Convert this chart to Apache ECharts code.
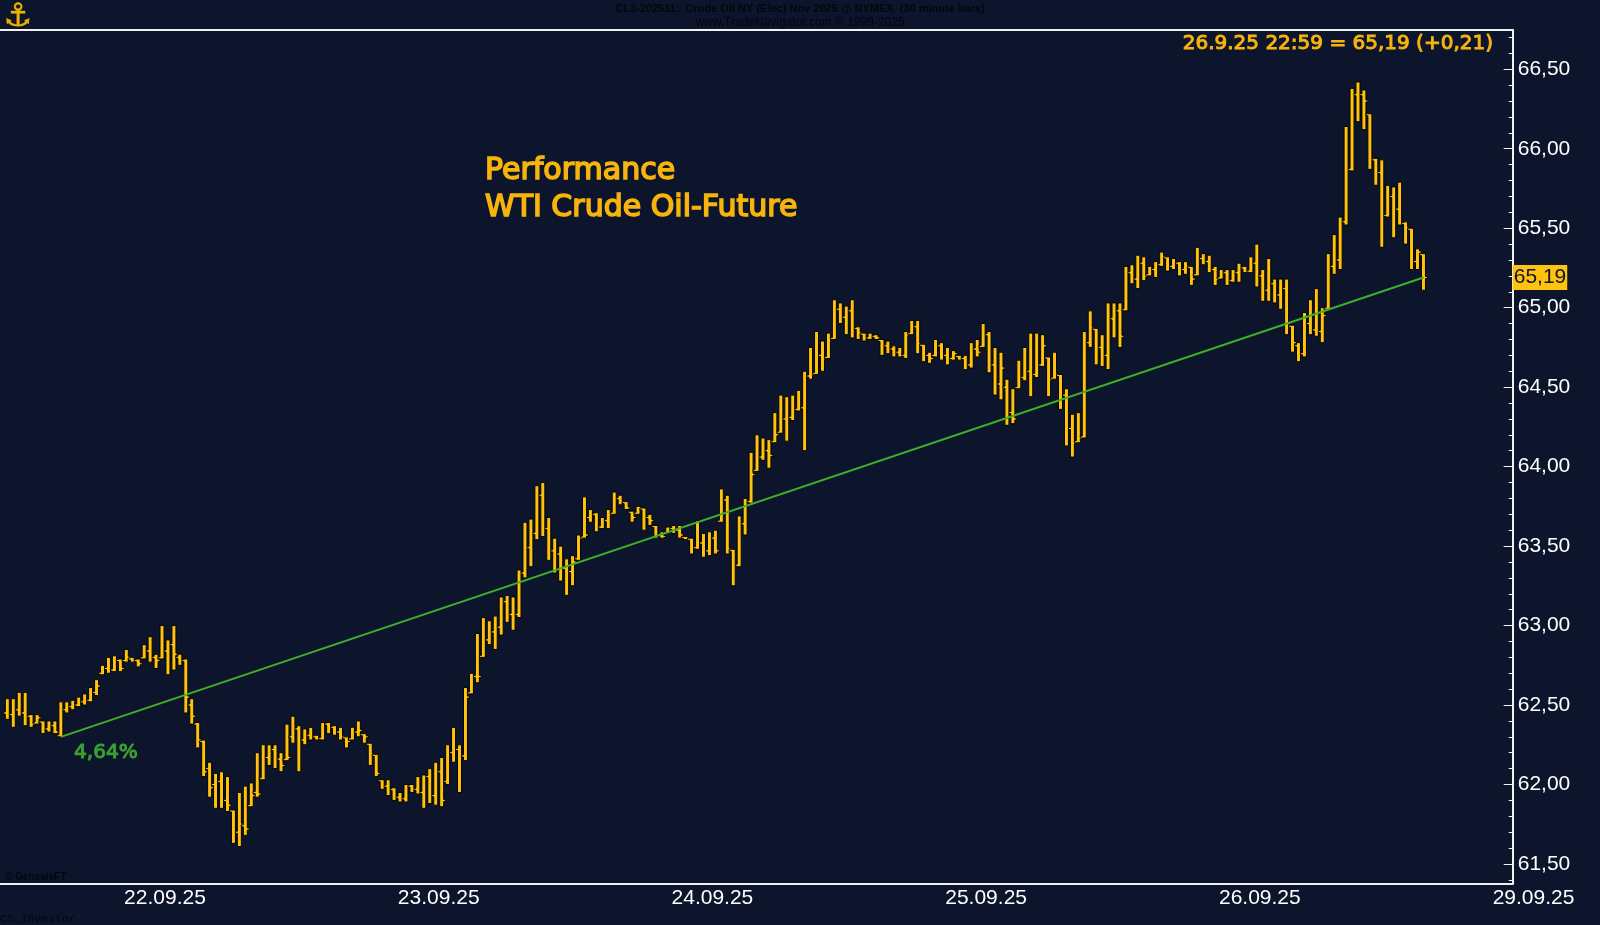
<!DOCTYPE html>
<html>
<head>
<meta charset="utf-8">
<title>Performance WTI Crude Oil-Future</title>
<script src="https://cdn.jsdelivr.net/npm/echarts@6/dist/echarts.min.js"></script>
<style>
  html, body { margin: 0; padding: 0; background: #0c152c; }
  #chart { width: 1600px; height: 925px; }
</style>
</head>
<body>
<div id="chart"></div>
<script>
// 30 minute bars, CL Nov 2025, 21.09. - 26.09.2025 (index = bar number)
const opens = [
  62.45, 62.44, 62.47, 62.45, 62.43, 62.38, 62.41, 62.35, 62.37, 62.30,
  62.47, 62.49, 62.50, 62.52, 62.53, 62.58, 62.70, 62.73, 62.72, 62.78,
  62.78, 62.79, 62.78, 62.79, 62.84, 62.80, 62.79, 62.84, 62.88, 62.80,
  62.78, 62.50, 62.38, 62.27, 62.10, 62.00, 62.02, 61.90, 61.84, 61.70,
  61.74, 61.86, 61.95, 62.03, 62.17, 62.22, 62.16, 62.15, 62.30, 62.35,
  62.28, 62.31, 62.30, 62.29, 62.38, 62.36, 62.33, 62.30, 62.28, 62.33,
  62.32, 62.26, 62.19, 62.03, 61.99, 61.97, 61.92, 61.91, 61.99, 61.97,
  61.95, 62.05, 61.93, 62.08, 62.02, 62.20, 62.22, 62.18, 62.57, 62.68,
  62.80, 62.91, 62.96, 62.99, 63.15, 63.07, 63.07, 63.33, 63.49, 63.58,
  63.82, 63.61, 63.47, 63.45, 63.36, 63.34, 63.42, 63.55, 63.68, 63.70,
  63.62, 63.66, 63.70, 63.80, 63.78, 63.72, 63.70, 63.74, 63.68, 63.63,
  63.57, 63.58, 63.61, 63.60, 63.56, 63.55, 63.49, 63.52, 63.47, 63.55,
  63.65, 63.79, 63.48, 63.38, 63.64, 63.78, 63.97, 64.06, 64.10, 64.15,
  64.21, 64.30, 64.31, 64.36, 64.37, 64.57, 64.58, 64.70, 64.68, 64.80,
  64.99, 64.94, 64.98, 64.87, 64.84, 64.81, 64.82, 64.80, 64.76, 64.74,
  64.72, 64.70, 64.83, 64.88, 64.77, 64.70, 64.70, 64.76, 64.70, 64.68,
  64.70, 64.68, 64.64, 64.74, 64.75, 64.83, 64.64, 64.52, 64.50, 64.34,
  64.49, 64.56, 64.60, 64.58, 64.64, 64.69, 64.55, 64.58, 64.45, 64.24,
  64.15, 64.18, 64.78, 64.87, 64.75, 64.70, 64.93, 64.98, 64.98, 65.22,
  65.18, 65.28, 65.20, 65.24, 65.27, 65.32, 65.26, 65.28, 65.24, 65.26,
  65.20, 65.31, 65.29, 65.24, 65.18, 65.22, 65.17, 65.22, 65.25, 65.23,
  65.28, 65.20, 65.11, 65.15, 65.08, 65.12, 64.89, 64.76, 64.71, 64.90,
  64.86, 64.85, 64.99, 65.26, 65.30, 65.54, 65.87, 66.34, 66.34, 66.22,
  65.93, 65.85, 65.58, 65.70, 65.62, 65.53, 65.50, 65.29, 65.34
];
const highs = [
  62.54, 62.54, 62.58, 62.58, 62.44, 62.44, 62.40, 62.40, 62.40, 62.52,
  62.52, 62.53, 62.55, 62.57, 62.61, 62.66, 62.75, 62.80, 62.81, 62.79,
  62.85, 62.80, 62.79, 62.88, 62.93, 62.82, 63.00, 62.91, 63.00, 62.82,
  62.79, 62.54, 62.39, 62.28, 62.14, 62.07, 62.08, 62.05, 61.84, 61.95,
  61.99, 62.01, 62.20, 62.25, 62.25, 62.25, 62.20, 62.38, 62.43, 62.37,
  62.35, 62.36, 62.31, 62.39, 62.39, 62.37, 62.36, 62.30, 62.36, 62.40,
  62.32, 62.26, 62.19, 62.03, 62.03, 61.98, 61.95, 62.00, 62.00, 62.05,
  62.06, 62.10, 62.14, 62.17, 62.25, 62.36, 62.25, 62.61, 62.70, 62.95,
  63.05, 63.03, 63.06, 63.18, 63.19, 63.18, 63.35, 63.65, 63.67, 63.88,
  63.90, 63.68, 63.55, 63.50, 63.42, 63.44, 63.57, 63.81, 63.73, 63.71,
  63.68, 63.73, 63.84, 63.82, 63.78, 63.72, 63.75, 63.74, 63.70, 63.63,
  63.59, 63.62, 63.63, 63.63, 63.56, 63.55, 63.66, 63.58, 63.59, 63.60,
  63.86, 63.82, 63.48, 63.69, 63.80, 64.09, 64.20, 64.18, 64.17, 64.34,
  64.45, 64.44, 64.45, 64.48, 64.60, 64.75, 64.85, 64.79, 64.84, 65.05,
  65.03, 65.01, 65.05, 64.88, 64.84, 64.84, 64.83, 64.80, 64.79, 64.76,
  64.75, 64.85, 64.92, 64.92, 64.77, 64.72, 64.80, 64.78, 64.75, 64.73,
  64.70, 64.70, 64.78, 64.80, 64.90, 64.85, 64.75, 64.72, 64.55, 64.49,
  64.67, 64.75, 64.84, 64.84, 64.83, 64.69, 64.72, 64.58, 64.49, 64.33,
  64.34, 64.85, 64.98, 64.87, 64.83, 65.03, 65.03, 65.03, 65.26, 65.27,
  65.33, 65.32, 65.26, 65.29, 65.35, 65.32, 65.31, 65.29, 65.29, 65.26,
  65.38, 65.34, 65.33, 65.26, 65.24, 65.24, 65.24, 65.28, 65.26, 65.32,
  65.40, 65.24, 65.31, 65.18, 65.18, 65.18, 64.89, 64.78, 64.97, 65.05,
  65.12, 65.00, 65.34, 65.46, 65.57, 66.14, 66.38, 66.42, 66.37, 66.22,
  65.94, 65.93, 65.77, 65.76, 65.79, 65.54, 65.50, 65.37, 65.34
];
const lows = [
  62.41, 62.36, 62.43, 62.37, 62.36, 62.38, 62.32, 62.33, 62.32, 62.30,
  62.45, 62.47, 62.49, 62.50, 62.52, 62.56, 62.69, 62.70, 62.71, 62.71,
  62.77, 62.77, 62.74, 62.79, 62.77, 62.73, 62.79, 62.69, 62.72, 62.75,
  62.45, 62.38, 62.23, 62.05, 61.92, 61.85, 61.85, 61.83, 61.63, 61.61,
  61.68, 61.86, 61.92, 62.03, 62.12, 62.10, 62.08, 62.15, 62.26, 62.08,
  62.25, 62.28, 62.28, 62.28, 62.32, 62.31, 62.28, 62.23, 62.28, 62.30,
  62.26, 62.12, 62.05, 61.97, 61.93, 61.90, 61.89, 61.89, 61.95, 61.94,
  61.85, 61.88, 61.87, 61.86, 62.00, 62.14, 61.95, 62.15, 62.57, 62.64,
  62.80, 62.88, 62.85, 62.94, 63.02, 62.97, 63.05, 63.30, 63.37, 63.54,
  63.56, 63.41, 63.33, 63.28, 63.19, 63.25, 63.41, 63.55, 63.65, 63.59,
  63.61, 63.61, 63.70, 63.76, 63.73, 63.65, 63.70, 63.60, 63.63, 63.55,
  63.55, 63.58, 63.58, 63.55, 63.54, 63.45, 63.48, 63.43, 63.44, 63.45,
  63.65, 63.45, 63.25, 63.37, 63.57, 63.77, 63.97, 64.04, 63.99, 64.15,
  64.21, 64.16, 64.29, 64.35, 64.10, 64.55, 64.58, 64.60, 64.68, 64.80,
  64.90, 64.83, 64.81, 64.80, 64.79, 64.80, 64.80, 64.70, 64.71, 64.69,
  64.69, 64.68, 64.83, 64.71, 64.66, 64.65, 64.69, 64.67, 64.64, 64.67,
  64.67, 64.61, 64.62, 64.69, 64.75, 64.59, 64.45, 64.42, 64.26, 64.27,
  64.49, 64.54, 64.44, 64.56, 64.63, 64.44, 64.55, 64.36, 64.13, 64.06,
  64.15, 64.18, 64.75, 64.64, 64.63, 64.61, 64.81, 64.75, 64.98, 65.15,
  65.12, 65.17, 65.20, 65.19, 65.26, 65.23, 65.24, 65.20, 65.21, 65.14,
  65.20, 65.27, 65.22, 65.14, 65.18, 65.14, 65.16, 65.16, 65.22, 65.22,
  65.13, 65.04, 65.04, 65.03, 64.99, 64.83, 64.72, 64.66, 64.69, 64.83,
  64.82, 64.78, 64.99, 65.21, 65.24, 65.52, 65.86, 66.17, 66.12, 65.87,
  65.77, 65.38, 65.57, 65.44, 65.52, 65.40, 65.24, 65.24, 65.11
];
const closes = [
  62.44, 62.47, 62.45, 62.43, 62.38, 62.42, 62.35, 62.37, 62.33, 62.47,
  62.49, 62.50, 62.52, 62.53, 62.58, 62.62, 62.73, 62.72, 62.78, 62.73,
  62.80, 62.78, 62.76, 62.84, 62.80, 62.78, 62.84, 62.88, 62.82, 62.78,
  62.55, 62.43, 62.28, 62.08, 61.98, 62.02, 61.90, 61.87, 61.70, 61.75,
  61.72, 61.93, 61.94, 62.17, 62.22, 62.16, 62.12, 62.17, 62.35, 62.28,
  62.31, 62.30, 62.29, 62.38, 62.36, 62.33, 62.30, 62.27, 62.33, 62.34,
  62.30, 62.19, 62.07, 61.99, 61.97, 61.92, 61.91, 61.99, 61.97, 61.95,
  62.05, 61.93, 62.08, 61.90, 62.20, 62.22, 62.18, 62.55, 62.68, 62.68,
  62.91, 62.96, 62.99, 63.15, 63.07, 63.07, 63.33, 63.49, 63.58, 63.82,
  63.61, 63.47, 63.45, 63.36, 63.34, 63.40, 63.55, 63.57, 63.70, 63.62,
  63.66, 63.70, 63.80, 63.78, 63.74, 63.68, 63.74, 63.68, 63.66, 63.57,
  63.56, 63.61, 63.60, 63.57, 63.55, 63.49, 63.52, 63.47, 63.55, 63.47,
  63.79, 63.48, 63.38, 63.64, 63.78, 63.95, 64.06, 64.10, 64.07, 64.20,
  64.30, 64.31, 64.36, 64.37, 64.57, 64.58, 64.70, 64.68, 64.80, 64.99,
  64.94, 64.98, 64.87, 64.84, 64.81, 64.82, 64.81, 64.76, 64.74, 64.72,
  64.70, 64.83, 64.88, 64.77, 64.70, 64.68, 64.76, 64.70, 64.68, 64.71,
  64.68, 64.64, 64.74, 64.72, 64.83, 64.64, 64.52, 64.62, 64.34, 64.30,
  64.56, 64.60, 64.58, 64.64, 64.76, 64.55, 64.58, 64.45, 64.24, 64.15,
  64.18, 64.78, 64.87, 64.75, 64.70, 64.93, 64.98, 64.82, 65.22, 65.18,
  65.28, 65.20, 65.24, 65.27, 65.32, 65.26, 65.28, 65.24, 65.26, 65.18,
  65.31, 65.29, 65.24, 65.18, 65.22, 65.17, 65.22, 65.25, 65.23, 65.28,
  65.20, 65.11, 65.15, 65.08, 65.12, 64.90, 64.78, 64.71, 64.90, 64.86,
  64.85, 64.95, 65.26, 65.30, 65.54, 65.87, 66.34, 66.34, 66.30, 65.93,
  65.85, 65.58, 65.70, 65.62, 65.53, 65.50, 65.29, 65.35, 65.19
];

// date labels on the time axis (bar index of each session start)
const dayPos = [26.5, 72.5, 118.5, 164.5, 210.5, 256.5];
const dayLabels = ['22.09.25', '23.09.25', '24.09.25', '25.09.25', '26.09.25', '29.09.25'];
const priceTicks = [61.5, 62, 62.5, 63, 63.5, 64, 64.5, 65, 65.5, 66, 66.5];

const perfStartIdx = 9;           // bar where the performance line starts
const lastTime = '26.9.25 22:59';
const lastChange = 0.21;

const BG = '#0c152c';
const GOLD = '#ffc20e';
const ORANGE = '#f7b40c';
const GREEN = '#3fae2a';
const AXIS = '#f2f2f2';
const SANS = 'Liberation Sans, Arial, sans-serif';
const TAHOMA = 'DejaVu Sans, Verdana, sans-serif';

const gridLeft = 0, gridRight = 87.3, gridTop = 30, gridBottom = 41.3;
const xMin = -1.23, xMax = 253;
const yMin = 61.376, yMax = 66.747;

const fmt = v => v.toFixed(2).replace('.', ',');

const ohlc = opens.map((o, i) => [i, o, highs[i], lows[i], closes[i]]);
const last = closes[closes.length - 1];
const startVal = opens[perfStartIdx];
const perf = (last / startVal - 1) * 100;

// minor ticks every 0.1
const minorTicks = [];
for (let k = 614; k <= 667; k++) {
  if (k % 5 !== 0) minorTicks.push(k / 10);
}

// the last date label sits right of the plot area, shift it with padding
const barStep = (1600 - gridLeft - gridRight) / (xMax - xMin);
const lastShift = (dayPos[dayPos.length - 1] - xMax) * barStep;
const labelValues = dayPos.map(p => Math.min(p, xMax));

function renderBar(params, api) {
  const i = api.value(0);
  const pO = api.coord([i, api.value(1)]);
  const yH = api.coord([i, api.value(2)])[1];
  let yL = api.coord([i, api.value(3)])[1];
  const yC = api.coord([i, api.value(4)])[1];
  const x = pO[0];
  const w = 2, tk = 2, t = 1;
  if (yL - yH < 2 * t) yL = yH + 2 * t;
  const clampY = y => Math.min(Math.max(y, yH + t), yL - t);
  const o = clampY(pO[1]);
  const c = clampY(yC);
  return {
    type: 'polygon',
    shape: {
      points: [
        [x - w, yH], [x + w, yH],
        [x + w, c - t], [x + w + tk, c - t], [x + w + tk, c + t], [x + w, c + t],
        [x + w, yL], [x - w, yL],
        [x - w, o + t], [x - w - tk, o + t], [x - w - tk, o - t], [x - w, o - t]
      ]
    },
    style: { fill: GOLD, stroke: '#02040a', lineWidth: 1 }
  };
}

const chart = echarts.init(document.getElementById('chart'), null, { renderer: 'canvas' });

chart.setOption({
  backgroundColor: BG,
  animation: false,
  grid: {
    left: gridLeft, right: gridRight, top: gridTop, bottom: gridBottom,
    containLabel: false, outerBoundsMode: 'none'
  },
  xAxis: [{
    type: 'value',
    min: xMin,
    max: xMax,
    position: 'bottom',
    axisLine: { show: true, onZero: false, lineStyle: { color: AXIS, width: 2 } },
    axisTick: { show: false },
    splitLine: { show: false },
    axisLabel: {
      customValues: labelValues,
      margin: 4,
      color: '#ffffff',
      fontSize: 21,
      fontFamily: SANS,
      formatter: v => {
        const k = labelValues.findIndex(p => Math.abs(p - v) < 0.01);
        if (k < 0) return '';
        if (dayPos[k] > xMax) return '{shift|' + dayLabels[k] + '}';
        return dayLabels[k];
      },
      rich: {
        shift: {
          color: '#ffffff',
          fontSize: 21,
          fontFamily: SANS,
          padding: [0, 0, 0, lastShift * 2]
        }
      }
    }
  }, {
    type: 'value',
    min: xMin,
    max: xMax,
    position: 'top',
    axisLine: { show: true, onZero: false, lineStyle: { color: AXIS, width: 2 } },
    axisTick: { show: false },
    axisLabel: { show: false },
    splitLine: { show: false }
  }],
  yAxis: [{
    type: 'value',
    position: 'right',
    min: yMin,
    max: yMax,
    axisLine: { show: true, onZero: false, lineStyle: { color: AXIS, width: 2 } },
    axisTick: {
      show: true, inside: true, length: 9,
      customValues: priceTicks,
      lineStyle: { color: AXIS, width: 1 }
    },
    axisLabel: {
      customValues: priceTicks,
      formatter: v => fmt(v),
      color: '#ffffff',
      fontSize: 21,
      fontFamily: SANS,
      margin: 5
    },
    splitLine: { show: false },
    axisPointer: {
      show: true,
      type: 'line',
      value: last,
      status: 'show',
      snap: false,
      triggerTooltip: false,
      lineStyle: { opacity: 0 },
      label: {
        show: true,
        formatter: p => fmt(p.value),
        backgroundColor: GOLD,
        color: BG,
        fontSize: 21,
        fontFamily: SANS,
        padding: [2, 1, 2, 1],
        margin: 0,
        borderRadius: 0,
        shadowBlur: 0
      }
    }
  }, {
    type: 'value',
    position: 'right',
    min: yMin,
    max: yMax,
    axisLine: { show: false, onZero: false },
    axisTick: {
      show: true, inside: true, length: 4,
      customValues: minorTicks,
      lineStyle: { color: AXIS, width: 1 }
    },
    axisLabel: { show: false },
    splitLine: { show: false }
  }],
  series: [{
    type: 'custom',
    name: 'CL',
    xAxisIndex: 0,
    yAxisIndex: 0,
    renderItem: renderBar,
    encode: { x: 0, y: [1, 2, 3, 4] },
    data: ohlc,
    z: 2
  }, {
    type: 'line',
    name: 'Performance',
    xAxisIndex: 0,
    yAxisIndex: 0,
    symbol: 'circle',
    symbolSize: 1,
    showSymbol: true,
    itemStyle: { color: GREEN },
    lineStyle: { color: GREEN, width: 2 },
    z: 3,
    data: [
      {
        value: [perfStartIdx, startVal],
        label: {
          show: true,
          position: 'bottom',
          distance: 5,
          offset: [45, 0],
          formatter: () => fmt(perf) + '%',
          color: '#3a9d32',
          fontSize: 20,
          fontFamily: TAHOMA,
          textBorderColor: '#3a9d32',
          textBorderWidth: 1.1
        }
      },
      [closes.length - 1, last]
    ]
  }],
  graphic: [{
    type: 'text',
    x: 485, y: 152.5,
    z: 10,
    style: {
      text: 'Performance\nWTI Crude Oil-Future',
      fill: ORANGE, stroke: ORANGE, lineWidth: 1.6,
      fontSize: 30, fontFamily: TAHOMA, lineHeight: 37,
      align: 'left', verticalAlign: 'top'
    }
  }, {
    type: 'text',
    x: 1493, y: 44,
    z: 10,
    style: {
      text: lastTime + ' = ' + fmt(last) + ' (+' + fmt(lastChange) + ')',
      fill: ORANGE, stroke: ORANGE, lineWidth: 1.0,
      fontSize: 20, fontFamily: TAHOMA,
      align: 'right', verticalAlign: 'middle'
    }
  }, {
    type: 'text',
    x: 800, y: 8.5,
    style: {
      text: 'CL3-202511:  Crude Oil NY (Elec) Nov 2025 @ NYMEX  (30 minute bars)',
      fill: '#04060c', fontSize: 11, fontWeight: 'bold',
      fontFamily: 'Liberation Sans Narrow, Liberation Sans, sans-serif',
      align: 'center', verticalAlign: 'middle'
    }
  }, {
    type: 'text',
    x: 800, y: 23,
    style: {
      text: 'www.TradeNavigator.com \u00a9 1999-2025',
      fill: '#04060c', fontSize: 12,
      fontFamily: 'Liberation Sans Narrow, Liberation Sans, sans-serif',
      align: 'center', verticalAlign: 'middle'
    }
  }, {
    type: 'text',
    x: 18, y: 18,
    style: {
      text: '\u2693',
      fill: '#e8b400', stroke: '#b88a00', lineWidth: 0.6,
      fontSize: 32, fontFamily: 'DejaVu Sans',
      align: 'center', verticalAlign: 'middle'
    }
  }, {
    type: 'text',
    x: 5, y: 877,
    style: {
      text: '\u00a9 GenesisFT',
      fill: '#04060c', fontSize: 10, fontWeight: 'bold', fontFamily: SANS,
      align: 'left', verticalAlign: 'middle'
    }
  }, {
    type: 'text',
    x: 0, y: 919,
    style: {
      text: 'CS_Investor',
      fill: '#04060c', fontSize: 11.5, fontFamily: 'Liberation Mono, monospace',
      align: 'left', verticalAlign: 'middle'
    }
  }]
});
</script>
</body>
</html>
